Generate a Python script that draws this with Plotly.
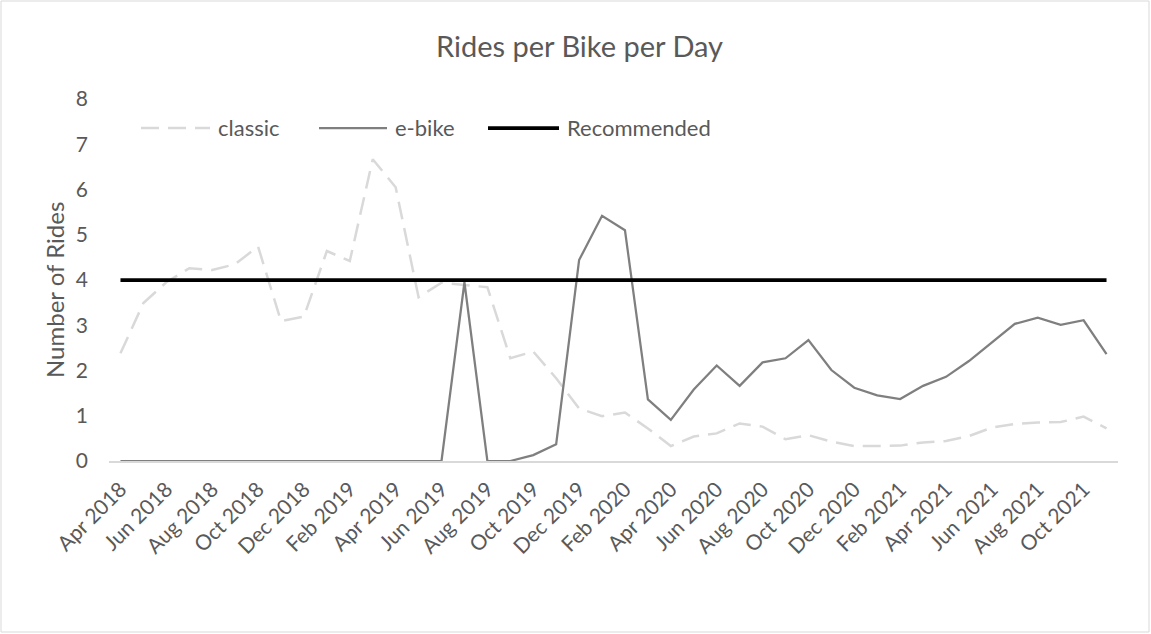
import plotly.graph_objects as go
import pandas as pd

months = pd.date_range("2018-04-01", "2021-11-01", freq="MS").strftime("%b %Y").tolist()

classic = [2.38, 3.49, 3.95, 4.26, 4.22, 4.35, 4.74, 3.09, 3.19, 4.64,
           4.42, 6.67, 6.05, 3.62, 3.94, 3.89, 3.84, 2.27, 2.42, 1.83,
           1.16, 0.99, 1.07, 0.72, 0.33, 0.54, 0.61, 0.83, 0.76, 0.48,
           0.57, 0.43, 0.33, 0.33, 0.34, 0.41, 0.44, 0.55, 0.74, 0.82,
           0.85, 0.86, 0.98, 0.72]
ebike = [0, 0, 0, 0, 0, 0, 0, 0, 0, 0,
         0, 0, 0, 0, 0, 3.95, 0, 0, 0.13, 0.37,
         4.44, 5.42, 5.10, 1.36, 0.91, 1.58, 2.11, 1.66, 2.18, 2.27,
         2.67, 2.01, 1.62, 1.45, 1.37, 1.66, 1.86, 2.21, 2.61, 3.03,
         3.17, 3.01, 3.11, 2.36]
recommended = [4] * len(months)
tick_labels = months[::2]

series_names = ["classic", "e-bike", "Recommended"]
series_colors = ["#d9d9d9", "#7f7f7f", "#000000"]
series_widths = [2.5, 2.25, 3.75]
series_dash = ["18px,9px", "solid", "solid"]

FONT = "Lato"
TXT = "#595959"

W, H = 1151, 634
L, R, T, B = 109, 33, 99, 173
pw, ph = W - L - R, H - T - B


def px_x(p):
    return (p - L) / pw


def px_y(p):
    return (H - B - p) / ph


fig = go.Figure()
for name, ys, c, w, d in zip(series_names, [classic, ebike, recommended],
                             series_colors, series_widths, series_dash):
    fig.add_trace(go.Scatter(x=months, y=ys, name=name, mode="lines",
                             line=dict(color=c, width=w, dash=d),
                             showlegend=False))

# manual legend (long line samples like the original)
legend_line_x = [(141, 210), (319, 387), (488, 559)]
legend_y = 128
shapes = [dict(type="rect", xref="paper", yref="paper",
               x0=px_x(1), x1=px_x(W - 2), y0=px_y(H - 2), y1=px_y(1),
               line=dict(color="#d9d9d9", width=1), fillcolor="rgba(0,0,0,0)",
               layer="below")]
annotations = []
for (x0, x1), name, c, w, d in zip(legend_line_x, series_names, series_colors,
                                   series_widths, series_dash):
    shapes.append(dict(type="line", xref="paper", yref="paper",
                       x0=px_x(x0), x1=px_x(x1), y0=px_y(legend_y), y1=px_y(legend_y),
                       line=dict(color=c, width=w, dash=d)))
    annotations.append(dict(text=name, xref="paper", yref="paper",
                            x=px_x(x1 + 6), y=px_y(legend_y), xanchor="left",
                            yanchor="middle", showarrow=False,
                            font=dict(size=22, color=TXT, family=FONT)))

# title and y-axis title as positioned text
annotations.append(dict(text="Rides per Bike per Day", xref="paper", yref="paper",
                        x=px_x(579), y=px_y(46), xanchor="center", yanchor="middle",
                        showarrow=False, font=dict(size=29, color=TXT, family=FONT)))
annotations.append(dict(text="Number of Rides", xref="paper", yref="paper",
                        x=px_x(54), y=px_y(290), xanchor="center", yanchor="middle",
                        textangle=-90, showarrow=False,
                        font=dict(size=24, color=TXT, family=FONT)))

fig.update_layout(
    width=W, height=H,
    margin=dict(l=L, r=R, t=T, b=B),
    paper_bgcolor="white", plot_bgcolor="white",
    font=dict(family=FONT, color=TXT, size=20),
    showlegend=False,
    xaxis=dict(type="category", categoryorder="array", categoryarray=months,
               range=[-0.5, len(months) - 0.5],
               tickmode="array", tickvals=tick_labels, ticktext=tick_labels,
               tickangle=-45, showgrid=False, showline=True,
               linecolor="#d9d9d9", linewidth=1.5, ticks="",
               ticklabelstandoff=6,
               tickfont=dict(size=21, color=TXT, family=FONT), zeroline=False),
    yaxis=dict(range=[0, 8], dtick=1, showgrid=False, zeroline=False,
               showline=False, ticks="", ticklabelstandoff=20,
               tickfont=dict(size=21, color=TXT, family=FONT)),
    shapes=shapes,
    annotations=annotations,
)

fig.write_html("out.html", config={"displayModeBar": False},
               post_script="document.body.style.margin='0px';document.body.style.overflow='hidden';")
